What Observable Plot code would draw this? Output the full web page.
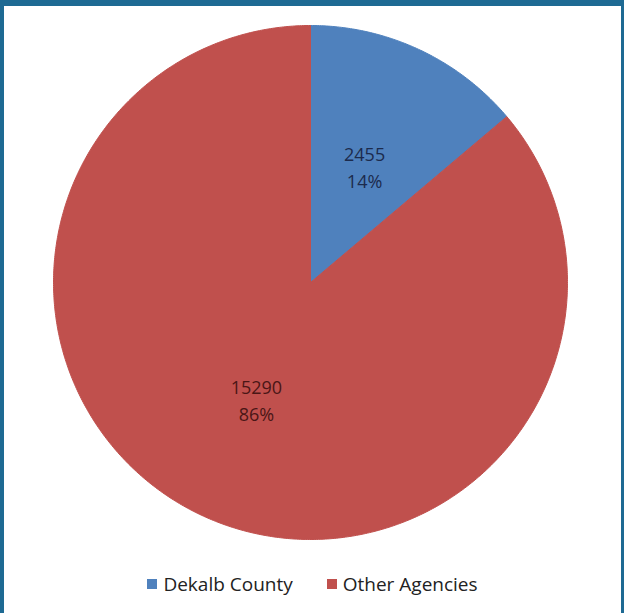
<!DOCTYPE html>
<html>
<head>
<meta charset="utf-8">
<script src="https://cdn.jsdelivr.net/npm/d3@7"></script>
<script src="https://cdn.jsdelivr.net/npm/@observablehq/plot@0.6"></script>
<style>
  html, body { margin: 0; padding: 0; background: #fff; }
  #frame {
    position: relative; width: 624px; height: 613px; box-sizing: border-box;
    border-top: 6px solid #1e6a93; border-left: 4px solid #1e6a93; border-right: 3px solid #1e6a93;
    background: #fff; overflow: hidden;
  }
  #chart svg { display: block; }
  #legend {
    position: absolute; left: 0; right: 0; top: 565px;
    display: flex; justify-content: center; align-items: center; gap: 34px;
    font-family: "Open Sans", sans-serif; font-size: 19px; color: #222;
  }
  .item { display: flex; align-items: center; gap: 6px; }
  .sw { width: 10px; height: 10px; display: inline-block; }
</style>
</head>
<body>
<div id="frame">
  <div id="chart"></div>
  <div id="legend"></div>
</div>
<script>
const categories = ["Dekalb County", "Other Agencies"];
const values = [2455, 15290];
const percentLabels = ["14%", "86%"];
const colors = ["#4f81bd", "#c0504d"];
const labelColors = ["#1c2b4d", "#4a1616"];

const arcs = d3.pie().sort(null)(values);

// polygon vertices of each slice, in unit-circle coordinates derived from the pie angles
const points = [];
arcs.forEach((a, i) => {
  const n = Math.max(2, Math.ceil((a.endAngle - a.startAngle) / (Math.PI / 360)));
  points.push({category: categories[i], x: 0, y: 0});
  for (let k = 0; k <= n; k++) {
    const t = a.startAngle + (a.endAngle - a.startAngle) * k / n;
    points.push({category: categories[i], x: Math.sin(t), y: Math.cos(t)});
  }
  points.push({category: categories[i], x: 0, y: 0});
});

const labels = arcs.map((a, i) => {
  const m = (a.startAngle + a.endAngle) / 2;
  return {category: categories[i], x: 0.5 * Math.sin(m), y: 0.5 * Math.cos(m),
          text: `${values[i]}\n${percentLabels[i]}`, color: labelColors[i]};
});

const plot = Plot.plot({
  width: 617,
  height: 560,
  marginLeft: 49,
  marginRight: 54,
  marginTop: 19,
  marginBottom: 27,
  x: {domain: [-1, 1], axis: null},
  y: {domain: [-1, 1], axis: null},
  color: {domain: categories, range: colors},
  marks: [
    Plot.line(points, {x: "x", y: "y", z: "category", fill: "category", stroke: "category", strokeWidth: 1, curve: "linear"}),
    Plot.text(labels, {x: "x", y: "y", text: "text", fill: "color", fontSize: 18, lineHeight: 1.5,
      fontFamily: "Open Sans, sans-serif"})
  ]
});
document.getElementById("chart").appendChild(plot);

const legend = document.getElementById("legend");
categories.forEach((c, i) => {
  const item = document.createElement("div");
  item.className = "item";
  const sw = document.createElement("span");
  sw.className = "sw";
  sw.style.background = colors[i];
  const tx = document.createElement("span");
  tx.textContent = c;
  item.appendChild(sw);
  item.appendChild(tx);
  legend.appendChild(item);
});
</script>
</body>
</html>
